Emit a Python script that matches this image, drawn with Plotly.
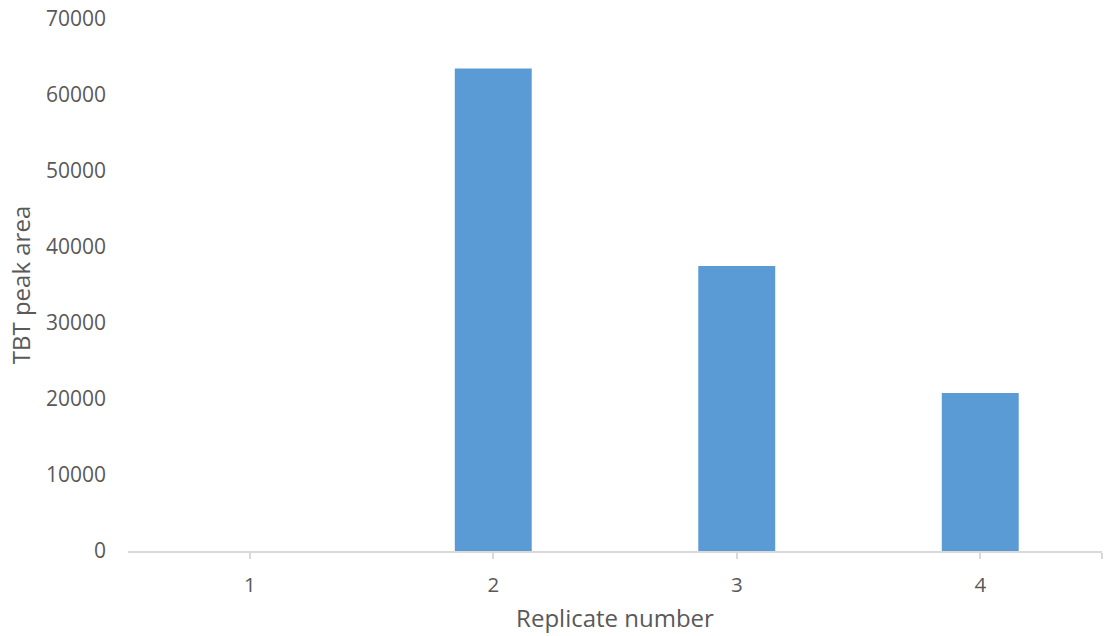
import plotly.graph_objects as go

# Replicate measurements of TBT peak area
replicates = [1, 2, 3, 4]
peak_area = [0, 63500, 37500, 20800]
tick_labels = ["1", "2", "3", "4"]

fig = go.Figure()
fig.add_trace(go.Bar(
    x=replicates,
    y=peak_area,
    width=0.316,
    marker=dict(color="#5B9BD5", line=dict(width=0)),
))

font_color = "#595959"
fig.update_layout(
    width=1104,
    height=636,
    margin=dict(l=128, r=2, t=19, b=85),
    paper_bgcolor="white",
    plot_bgcolor="white",
    showlegend=False,
    font=dict(family="Open Sans", size=20, color=font_color),
    xaxis=dict(
        range=[0.5, 4.5],
        tickvals=replicates + [4.5],
        ticktext=tick_labels + [""],
        ticks="outside",
        ticklen=6,
        tickcolor="#D9D9D9",
        tickwidth=2,
        showline=True,
        linecolor="#D9D9D9",
        linewidth=2,
        showgrid=False,
        zeroline=False,
        tickfont=dict(size=20.5),
        title=dict(text="Replicate number", standoff=14),
        ticklabelstandoff=8,
    ),
    yaxis=dict(
        range=[0, 70000],
        dtick=10000,
        showline=False,
        showgrid=False,
        zeroline=False,
        ticks="",
        tickformat="d",
        tickfont=dict(size=21),
        title=dict(text="TBT peak area", standoff=8),
        ticklabelstandoff=21,
    ),
)

fig.write_html("out.html")
